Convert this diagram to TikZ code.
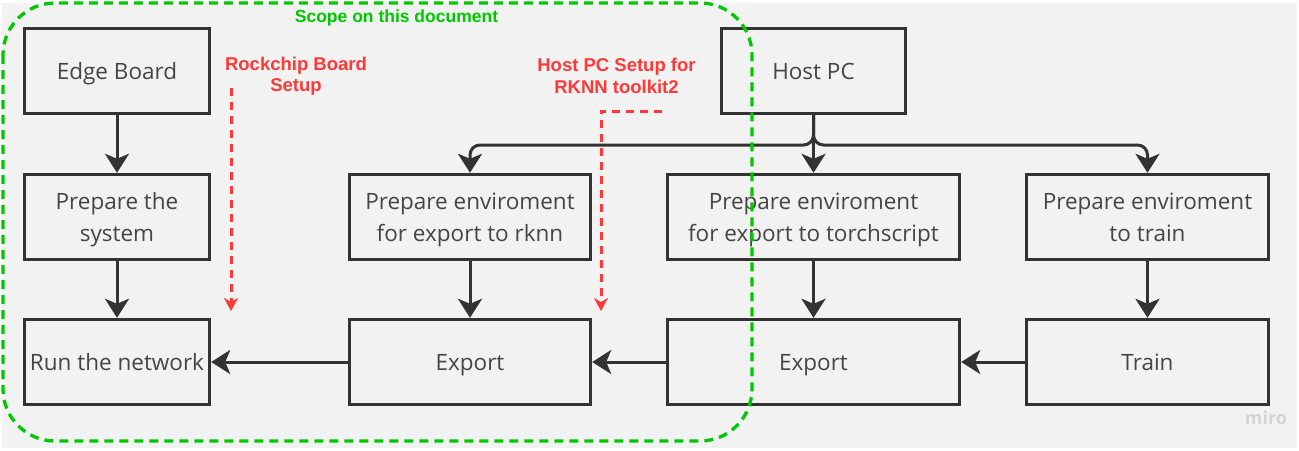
\documentclass[tikz,border=0pt]{standalone}
\usepackage{fontspec}
\newfontfamily\boxfont{Open Sans}
\newfontfamily\labfont{Liberation Sans}
\usetikzlibrary{arrows.meta}
\definecolor{bg}{HTML}{F2F2F2}
\definecolor{ink}{HTML}{333333}
\definecolor{txt}{HTML}{454545}
\definecolor{scopegreen}{HTML}{00C800}
\definecolor{notered}{HTML}{FF3838}
\newcommand\nodesc[1]{\raisebox{0pt}[\height][0pt]{#1}}
\begin{document}
\begin{tikzpicture}[x=1pt,y=-1pt,
  box/.style={draw=ink, line width=3.4pt, fill=bg, minimum height=85pt, inner sep=0pt, align=center, text=txt, font=\boxfont\fontsize{22.5}{32}\selectfont},
  flow/.style={draw=ink, line width=3pt, -{Stealth[length=19pt,width=24pt,inset=5pt]}},
  note/.style={text=notered, font=\labfont\bfseries\fontsize{18.5}{21.5}\selectfont, align=center},
  notearrow/.style={draw=notered, line width=3pt, dash pattern=on 8pt off 6pt, -{Stealth[length=13pt,width=14pt,inset=4pt]}},
  scope/.style={draw=scopegreen, line width=3.3pt, dash pattern=on 9pt off 6pt, rounded corners=52pt},
]
\useasboundingbox (0,0) rectangle (1299,450);
\fill[white] (0,0) rectangle (1299,450);
\fill[bg] (2,3) rectangle (1297,448);

% boxes
\node[box, minimum width=185pt] (edge) at (117,71) {\nodesc{Edge Board}};
\node[box, minimum width=185pt] (prep) at (117,217) {Prepare the\\\nodesc{system}};
\node[box, minimum width=185pt] (run) at (117,362) {\nodesc{Run the network}};
\node[box, minimum width=241pt] (envrknn) at (470,217) {Prepare enviroment\\\nodesc{for export to rknn}};
\node[box, minimum width=241pt] (export1) at (470,362) {\nodesc{Export}};
\node[box, minimum width=292pt] (envts) at (813.5,217) {Prepare enviroment\\\nodesc{for export to torchscript}};
\node[box, minimum width=292pt] (export2) at (813.5,362) {\nodesc{Export}};
\node[box, minimum width=242pt] (envtrain) at (1147.5,217) {Prepare enviroment\\\nodesc{to train}};
\node[box, minimum width=242pt] (train) at (1147.5,362) {\nodesc{Train}};
\node[box, minimum width=184pt] (host) at (813.5,71) {\nodesc{Host PC}};

% flow arrows
\draw[flow] (edge) -- (prep);
\draw[flow] (prep) -- (run);
\draw[flow] (envrknn) -- (export1);
\draw[flow] (envts) -- (export2);
\draw[flow] (envtrain) -- (train);
\draw[flow] (train) -- (export2);
\draw[flow] (export2) -- (export1);
\draw[flow] (export1) -- (run);
\coordinate (split) at (813.5,145);
\draw[flow, rounded corners=10pt] (host.south) -- (split) -| (envrknn.north);
\draw[flow, rounded corners=10pt] (host.south) -- (split) -| (envtrain.north);
\draw[flow] (host.south) -- (envts.north);

% red notes
\node[note] (rock) at (296,76) {Rockchip Board\\Setup};
\node[note] (hostsetup) at (616.5,76) {Host PC Setup for\\RKNN toolkit2};
\coordinate (r1s) at (231,88);
\coordinate (r1e) at (231,311);
\draw[notearrow] (r1s) -- (r1e);
\coordinate (r2s) at (662,111);
\coordinate (r2e) at (601,311);
\draw[notearrow] (r2s) -| (r2e);

% scope
\draw[scope] (3,3) rectangle (752,441);
\node[text=scopegreen, font=\labfont\bfseries\fontsize{17.5}{20}\selectfont, anchor=base] (scopelabel) at (396.5,22) {Scope on this document};

% watermark
\node[text=black!17, font=\boxfont\bfseries\fontsize{18}{20}\selectfont, anchor=base] (miro) at (1266,424) {miro};
\end{tikzpicture}
\end{document}
